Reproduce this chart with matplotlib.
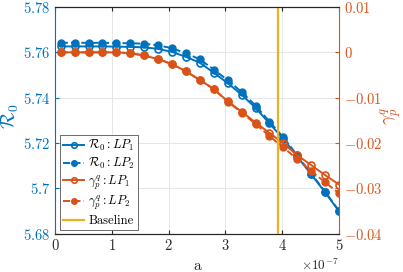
import numpy as np
import matplotlib
matplotlib.use('Agg')
import matplotlib.pyplot as plt
from matplotlib.ticker import FuncFormatter, ScalarFormatter

plt.rcParams['font.family'] = 'serif'
plt.rcParams['font.serif'] = ['cmr10', 'DejaVu Serif']
plt.rcParams['mathtext.fontset'] = 'cm'
plt.rcParams['axes.formatter.use_mathtext'] = True

BLUE = '#0072BD'
ORANGE = '#D95319'
YELLOW = '#EDB120'

# a values (x 1e-7)
a_vals = [0.1, 0.345, 0.59, 0.835, 1.08, 1.325, 1.57, 1.815, 2.06, 2.305, 2.55,
          2.795, 3.04, 3.285, 3.53, 3.775, 4.02, 4.265, 4.51, 4.755, 5.0]

r0_lp1 = [5.7626, 5.7626, 5.7626, 5.7626, 5.7625, 5.7624, 5.7622, 5.7615, 5.7602,
          5.7580, 5.7554, 5.7510, 5.7464, 5.7413, 5.7355, 5.7286, 5.7218, 5.7140,
          5.7061, 5.6982, 5.6898]
r0_lp2 = [5.7642, 5.7642, 5.7642, 5.7642, 5.7641, 5.7640, 5.7638, 5.7631, 5.7618,
          5.7596, 5.7569, 5.7524, 5.7477, 5.7425, 5.7365, 5.7294, 5.7225, 5.7145,
          5.7064, 5.6985, 5.6900]
gam_lp1 = [0.0, 0.0, 0.0, 0.0, 0.0, -0.0002, -0.0007, -0.0015, -0.0026, -0.0042,
           -0.0061, -0.0081, -0.0108, -0.0131, -0.0155, -0.0178, -0.0201, -0.0227,
           -0.0249, -0.0271, -0.0292]
gam_lp2 = [0.0, 0.0, 0.0, 0.0, 0.0, -0.0002, -0.0007, -0.0015, -0.0026, -0.0042,
           -0.0061, -0.0081, -0.0109, -0.0133, -0.0158, -0.0185, -0.0210, -0.0236,
           -0.0262, -0.0287, -0.0311]
baseline_a = 3.93e-7

a = np.array(a_vals) * 1e-7

fig = plt.figure(figsize=(4.03, 2.72), dpi=100)
ax = fig.add_axes([0.1365, 0.1415, 0.7047, 0.8327])
ax2 = ax.twinx()

h1, = ax.plot(a, r0_lp1, '-o', color=BLUE, mfc='none', ms=5, lw=1.4, mew=1.2,
              label=r'$\mathcal{R}_0 : LP_1$')
h2, = ax.plot(a, r0_lp2, '--o', color=BLUE, ms=5, lw=1.4,
              label=r'$\mathcal{R}_0 : LP_2$')
h3, = ax2.plot(a, gam_lp1, '-o', color=ORANGE, mfc='none', ms=5, lw=1.4, mew=1.2,
               label=r'$\gamma_p^q : LP_1$')
h4, = ax2.plot(a, gam_lp2, '--o', color=ORANGE, ms=5, lw=1.4,
               label=r'$\gamma_p^q : LP_2$')
h5 = ax2.axvline(baseline_a, color=YELLOW, lw=1.6, label='Baseline')

ax.set_xlim(0, 5e-7)
ax.set_ylim(5.68, 5.78)
ax2.set_ylim(-0.04, 0.01)
ax.set_xticks(np.arange(0, 6) * 1e-7)
ax.set_yticks([5.68, 5.70, 5.72, 5.74, 5.76, 5.78])
ax2.set_yticks([-0.04, -0.03, -0.02, -0.01, 0, 0.01])

ax.yaxis.set_major_formatter(FuncFormatter(lambda v, _: '$%s$' % ('%g' % round(v, 4))))
ax2.yaxis.set_major_formatter(FuncFormatter(lambda v, _: '$%s$' % ('%g' % round(v, 4))))
sf = ScalarFormatter(useMathText=True)
sf.set_powerlimits((-3, 3))
ax.xaxis.set_major_formatter(sf)

ax.grid(True, color='#e3e6ea', lw=0.7)
ax.set_axisbelow(True)

ax.tick_params(axis='y', colors=BLUE, direction='in', length=3, labelsize=10.5)
ax.tick_params(axis='x', colors='#262626', direction='in', length=3, labelsize=10.5, top=True)
ax2.tick_params(axis='y', colors=ORANGE, direction='in', length=3, labelsize=10.5)
ax.xaxis.get_offset_text().set_fontsize(9.5)

ax.spines['left'].set_color(BLUE)
ax2.spines['left'].set_visible(False)
ax2.spines['right'].set_color(ORANGE)
ax.spines['right'].set_visible(False)
for s in ['top', 'bottom']:
    ax.spines[s].set_color('#262626')
    ax2.spines[s].set_color('#262626')

ax.set_xlabel('a', fontsize=11, color='#262626')
ax.xaxis.set_label_coords(0.5, -0.112)
ax.set_ylabel(r'$\mathcal{R}_0$', fontsize=14, color=BLUE)
ax.yaxis.set_label_coords(-0.118, 0.52)
ax2.set_ylabel(r'$\gamma_p^q$', fontsize=13, color=ORANGE, rotation=90)
ax2.yaxis.set_label_coords(1.14, 0.52)

leg = ax2.legend(handles=[h1, h2, h3, h4, h5], loc='lower left',
                 bbox_to_anchor=(0.0176, 0.0155), borderaxespad=0, fontsize=9,
                 handlelength=1.7, handletextpad=0.3, labelspacing=0.2,
                 borderpad=0.25, fancybox=False, framealpha=1, edgecolor='#555555',
                 markerscale=0.8)
leg.get_frame().set_linewidth(0.6)

fig.savefig('out.png', dpi=100)
